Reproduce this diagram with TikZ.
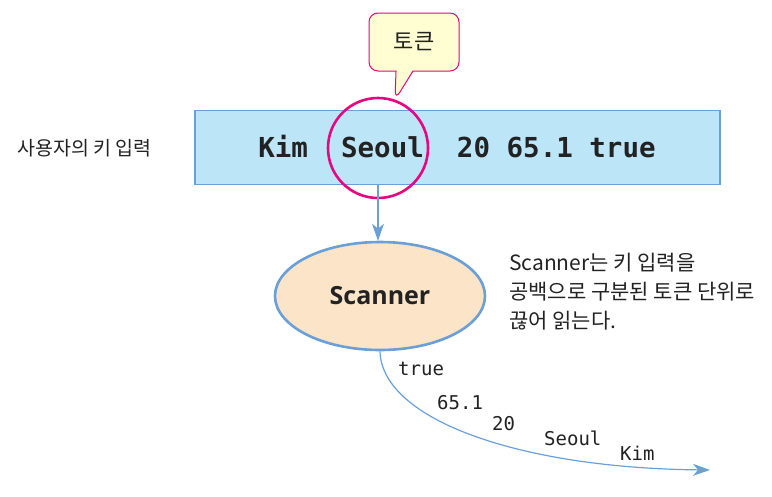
\documentclass[tikz,border=0pt]{standalone}
\usepackage{fontspec}
\setmainfont{Noto Sans CJK KR}
\newfontfamily\kr{Noto Sans CJK KR}
\newfontfamily\mono{DejaVu Sans Mono}
\newfontfamily\scfont{Open Sans}
\usetikzlibrary{shapes.geometric,shapes.callouts,arrows.meta}
\definecolor{boxblue}{HTML}{BDE5F8}
\definecolor{lineblue}{HTML}{6A9FD8}
\definecolor{magenta}{HTML}{E4077F}
\definecolor{peach}{HTML}{FCE4C8}
\definecolor{yel}{HTML}{FFFDD2}
\definecolor{txt}{HTML}{222222}
\tikzset{
  tok/.style={font=\mono\fontsize{19}{22}\selectfont, text=txt, inner sep=0pt, anchor=base west},
  conn/.style={draw=lineblue, line width=1.2pt, -{Stealth[length=17pt,width=12pt,inset=5pt]}},
}
\begin{document}
\begin{tikzpicture}[x=1pt,y=-1pt]
\useasboundingbox (0,0) rectangle (772,496);
% input box
\node[draw=lineblue, fill=boxblue, line width=1.5pt, minimum width=525pt, minimum height=74pt, inner sep=0pt] (box) at (457.5,147.5) {};
\node[font=\mono\bfseries\fontsize{27.5}{30}\selectfont, text=txt, inner sep=0pt] (intext) at (457,147) {Kim\ \ Seoul\ \ 20 65.1 true};
% left label
\node[font=\kr\fontsize{19.5}{22}\selectfont, text=txt, anchor=west, inner sep=0pt] (userlabel) at (17,148) {사용자의 키 입력};
% circle
\node[draw=magenta, line width=2.6pt, circle, minimum size=100pt, inner sep=0pt] (circ) at (378,148) {};
% callout
\node[rectangle callout, draw=magenta, fill=yel, line width=1pt, rounded corners=9pt,
      minimum width=90pt, minimum height=58pt, inner sep=0pt, callout pointer width=17pt,
      callout absolute pointer={(395,100)}, font=\kr\fontsize{22}{24}\selectfont, text=txt] (tokencallout) at (414,42) {토큰};
% arrow to scanner
\node[ellipse, draw=lineblue, fill=peach, line width=2.6pt, minimum width=210pt, minimum height=108pt, inner sep=0pt,
      font=\scfont\bfseries\fontsize{25}{28}\selectfont, text=txt] (scanner) at (380,296) {Scanner};
\draw[conn] (box.south -| circ.center) -- (scanner.north -| circ.center);
% description
\node[font=\kr\fontsize{21}{29}\selectfont, text=txt, align=left, anchor=north west, inner sep=0pt] (desc) at (509,253)
  {Scanner는 키 입력을\\공백으로 구분된 토큰 단위로\\끊어 읽는다.};
% output curve
\coordinate (outend) at (710,470);
\draw[conn] (scanner.south) .. controls (382,420) and (520,468) .. (outend);
% tokens
\node[tok] (t1) at (398,375) {true};
\node[tok] (t2) at (437,409) {65.1};
\node[tok] (t3) at (492,430) {20};
\node[tok] (t4) at (544,445) {Seoul};
\node[tok] (t5) at (620,460) {Kim};
\end{tikzpicture}
\end{document}
